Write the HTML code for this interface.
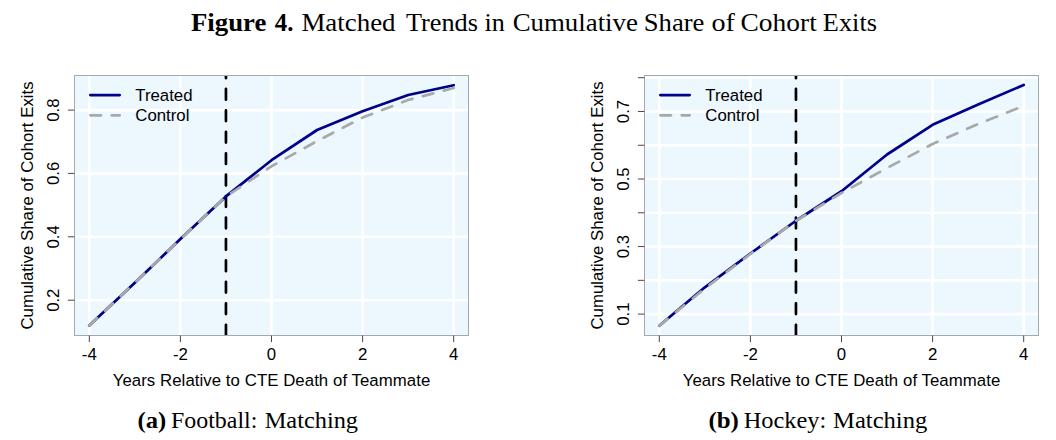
<!DOCTYPE html>
<html lang="en">
<head>
<meta charset="utf-8">
<title>Figure 4. Matched Trends in Cumulative Share of Cohort Exits</title>
<style>
html,body{margin:0;padding:0;background:#fff;}
body{width:1056px;height:440px;overflow:hidden;}
svg{display:block;}
.ax text{font-family:"Liberation Sans",Arial,sans-serif;font-size:16.8px;fill:#000;}
.ser{font-family:"Liberation Serif","Times New Roman",serif;fill:#000;}
</style>
</head>
<body>
<svg width="1056" height="440" viewBox="0 0 1056 440">
<rect width="1056" height="440" fill="#fff"/>
<text class="ser" id="title" y="30.5" font-size="25.7"><tspan x="191.00" textLength="75.31" lengthAdjust="spacingAndGlyphs" font-weight="bold">Figure</tspan> <tspan x="274.80" textLength="18.62" lengthAdjust="spacingAndGlyphs" font-weight="bold">4.</tspan> <tspan x="301.45" textLength="94.12" lengthAdjust="spacingAndGlyphs">Matched</tspan> <tspan x="405.90" textLength="72.05" lengthAdjust="spacingAndGlyphs">Trends</tspan> <tspan x="484.48" textLength="20.30" lengthAdjust="spacingAndGlyphs">in</tspan> <tspan x="512.66" textLength="125.24" lengthAdjust="spacingAndGlyphs">Cumulative</tspan> <tspan x="643.83" textLength="60.59" lengthAdjust="spacingAndGlyphs">Share</tspan> <tspan x="711.40" textLength="23.44" lengthAdjust="spacingAndGlyphs">of</tspan> <tspan x="740.53" textLength="76.25" lengthAdjust="spacingAndGlyphs">Cohort</tspan> <tspan x="822.88" textLength="54.06" lengthAdjust="spacingAndGlyphs">Exits</tspan></text>
<clipPath id="cl"><rect x="74.5" y="75.5" width="394" height="260"/></clipPath>
<rect x="74.5" y="75.5" width="394" height="260" fill="#edf7fe"/>
<g clip-path="url(#cl)">
<path d="M89.30 75.5V335.5M180.40 75.5V335.5M271.50 75.5V335.5M362.60 75.5V335.5M453.70 75.5V335.5M74.5 110.10H468.5M74.5 173.40H468.5M74.5 236.80H468.5M74.5 300.20H468.5" stroke="#fff" stroke-width="2.6" fill="none"/>
<path d="M225.95 335.5V55.5" stroke="#000" stroke-width="2.7" stroke-dasharray="10.72 10.72" stroke-linecap="round" fill="none"/>
<polyline points="89.30,325.60 134.85,282.70 180.40,239.10 225.95,196.40 271.50,160.20 317.05,130.00 362.60,111.25 408.15,95.00 453.70,85.20" stroke="#00008b" stroke-width="2.7" fill="none" stroke-linecap="round" stroke-linejoin="round"/>
<polyline points="89.30,325.60 134.85,282.70 180.40,239.10 225.95,196.40 271.50,166.30 317.05,141.10 362.60,117.50 408.15,100.00 453.70,88.00" stroke="#a9a9a9" stroke-width="2.7" fill="none" stroke-dasharray="10.79 10.79" stroke-linecap="round" stroke-linejoin="round"/>
<path d="M90.3 95.1H119.7" stroke="#00008b" stroke-width="2.7" stroke-linecap="round"/>
<path d="M90.3 115.3H119.7" stroke="#a9a9a9" stroke-width="2.7" stroke-dasharray="10.7 10.7" stroke-linecap="round"/>
</g>
<rect x="74.5" y="75.5" width="394" height="260" fill="none" stroke="#a6a9ac" stroke-width="1"/>
<path d="M89.30 335.5v6.6M180.40 335.5v6.6M271.50 335.5v6.6M362.60 335.5v6.6M453.70 335.5v6.6M74.5 110.10h-6.6M74.5 173.40h-6.6M74.5 236.80h-6.6M74.5 300.20h-6.6" stroke="#484848" stroke-width="1" fill="none"/>
<g class="ax">
<text x="89.30" y="360" text-anchor="middle">-4</text>
<text x="180.40" y="360" text-anchor="middle">-2</text>
<text x="271.50" y="360" text-anchor="middle">0</text>
<text x="362.60" y="360" text-anchor="middle">2</text>
<text x="453.70" y="360" text-anchor="middle">4</text>
<text transform="translate(59,110.10) rotate(-90)" text-anchor="middle">0.8</text>
<text transform="translate(59,173.40) rotate(-90)" text-anchor="middle">0.6</text>
<text transform="translate(59,236.80) rotate(-90)" text-anchor="middle">0.4</text>
<text transform="translate(59,300.20) rotate(-90)" text-anchor="middle">0.2</text>
<text transform="translate(32.5,205.5) rotate(-90)" text-anchor="middle">Cumulative Share of Cohort Exits</text>
<text x="271.5" y="386.1" text-anchor="middle" textLength="317.6" lengthAdjust="spacing">Years Relative to CTE Death of Teammate</text>
<text x="135.3" y="101.1">Treated</text>
<text x="135.3" y="121.2">Control</text>
</g>
<clipPath id="cr"><rect x="644.5" y="75.5" width="394" height="260"/></clipPath>
<rect x="644.5" y="75.5" width="394" height="260" fill="#edf7fe"/>
<g clip-path="url(#cr)">
<path d="M659.30 75.5V335.5M750.40 75.5V335.5M841.50 75.5V335.5M932.60 75.5V335.5M1023.70 75.5V335.5M644.5 314.10H1038.5M644.5 280.33H1038.5M644.5 246.56H1038.5M644.5 212.79H1038.5M644.5 179.02H1038.5M644.5 145.25H1038.5M644.5 111.48H1038.5M644.5 77.71H1038.5" stroke="#fff" stroke-width="2.6" fill="none"/>
<path d="M795.95 335.5V55.5" stroke="#000" stroke-width="2.7" stroke-dasharray="10.72 10.72" stroke-linecap="round" fill="none"/>
<polyline points="659.30,325.75 704.85,287.30 750.40,253.50 795.95,220.75 841.50,191.25 887.05,154.50 932.60,124.80 978.15,104.50 1023.70,84.90" stroke="#00008b" stroke-width="2.7" fill="none" stroke-linecap="round" stroke-linejoin="round"/>
<polyline points="659.30,325.75 704.85,288.50 750.40,254.00 795.95,220.75 841.50,193.00 887.05,168.00 932.60,144.00 978.15,124.00 1023.70,106.00" stroke="#a9a9a9" stroke-width="2.7" fill="none" stroke-dasharray="10.79 10.79" stroke-linecap="round" stroke-linejoin="round"/>
<path d="M660.3 95.1H689.7" stroke="#00008b" stroke-width="2.7" stroke-linecap="round"/>
<path d="M660.3 115.3H689.7" stroke="#a9a9a9" stroke-width="2.7" stroke-dasharray="10.7 10.7" stroke-linecap="round"/>
</g>
<rect x="644.5" y="75.5" width="394" height="260" fill="none" stroke="#a6a9ac" stroke-width="1"/>
<path d="M659.30 335.5v6.6M750.40 335.5v6.6M841.50 335.5v6.6M932.60 335.5v6.6M1023.70 335.5v6.6M644.5 314.10h-6.6M644.5 280.33h-6.6M644.5 246.56h-6.6M644.5 212.79h-6.6M644.5 179.02h-6.6M644.5 145.25h-6.6M644.5 111.48h-6.6M644.5 77.71h-6.6" stroke="#484848" stroke-width="1" fill="none"/>
<g class="ax">
<text x="659.30" y="360" text-anchor="middle">-4</text>
<text x="750.40" y="360" text-anchor="middle">-2</text>
<text x="841.50" y="360" text-anchor="middle">0</text>
<text x="932.60" y="360" text-anchor="middle">2</text>
<text x="1023.70" y="360" text-anchor="middle">4</text>
<text transform="translate(629,111.48) rotate(-90)" text-anchor="middle">0.7</text>
<text transform="translate(629,179.02) rotate(-90)" text-anchor="middle">0.5</text>
<text transform="translate(629,246.56) rotate(-90)" text-anchor="middle">0.3</text>
<text transform="translate(629,314.10) rotate(-90)" text-anchor="middle">0.1</text>
<text transform="translate(602.5,205.5) rotate(-90)" text-anchor="middle">Cumulative Share of Cohort Exits</text>
<text x="841.5" y="386.1" text-anchor="middle" textLength="317.6" lengthAdjust="spacing">Years Relative to CTE Death of Teammate</text>
<text x="705.3" y="101.1">Treated</text>
<text x="705.3" y="121.2">Control</text>
</g>
<text class="ser" id="capa" y="427.5" font-size="24"><tspan x="137.58" textLength="28.63" lengthAdjust="spacingAndGlyphs" font-weight="bold">(a)</tspan> <tspan x="171.00" textLength="86.36" lengthAdjust="spacingAndGlyphs">Football:</tspan> <tspan x="264.69" textLength="93.30" lengthAdjust="spacingAndGlyphs">Matching</tspan></text>
<text class="ser" id="capb" y="427.5" font-size="24"><tspan x="708.46" textLength="30.43" lengthAdjust="spacingAndGlyphs" font-weight="bold">(b)</tspan> <tspan x="743.78" textLength="82.55" lengthAdjust="spacingAndGlyphs">Hockey:</tspan> <tspan x="833.08" textLength="94.21" lengthAdjust="spacingAndGlyphs">Matching</tspan></text>
</svg>
</body>
</html>
